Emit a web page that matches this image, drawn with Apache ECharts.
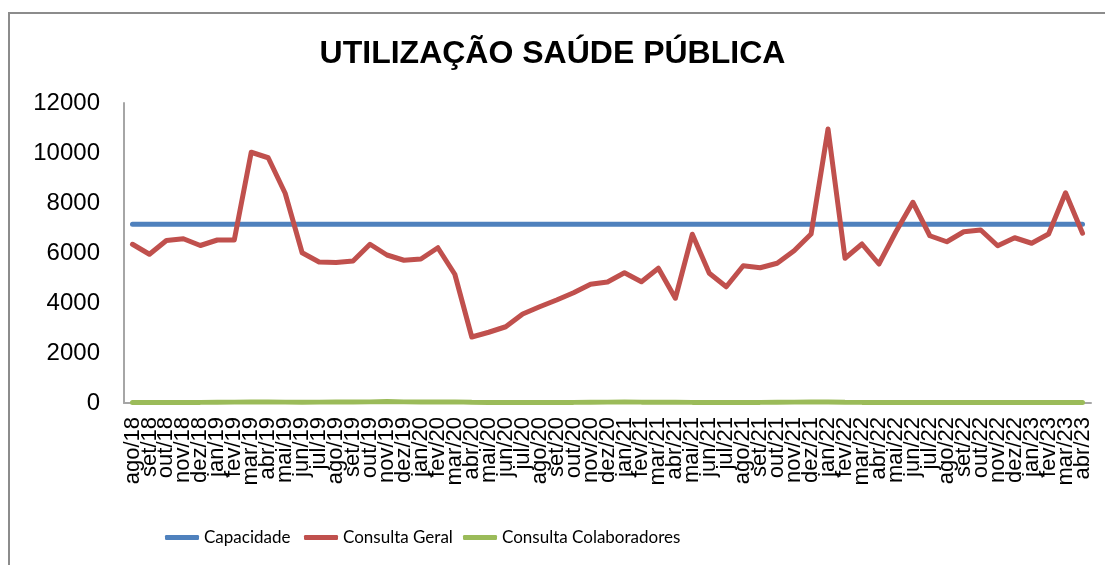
<!DOCTYPE html>
<html>
<head>
<meta charset="utf-8">
<script src="https://cdn.jsdelivr.net/npm/echarts@6/dist/echarts.min.js"></script>
<style>
  html, body { margin: 0; padding: 0; background: #fff; }
  #chart { width: 1105px; height: 565px; }
</style>
</head>
<body>
<div id="chart"></div>
<script>
// month labels, ago/18 .. abr/23
const months = [
  'ago/18','set/18','out/18','nov/18','dez/18',
  'jan/19','fev/19','mar/19','abr/19','mai/19','jun/19','jul/19','ago/19','set/19','out/19','nov/19','dez/19',
  'jan/20','fev/20','mar/20','abr/20','mai/20','jun/20','jul/20','ago/20','set/20','out/20','nov/20','dez/20',
  'jan/21','fev/21','mar/21','abr/21','mai/21','jun/21','jul/21','ago/21','set/21','out/21','nov/21','dez/21',
  'jan/22','fev/22','mar/22','abr/22','mai/22','jun/22','jul/22','ago/22','set/22','out/22','nov/22','dez/22',
  'jan/23','fev/23','mar/23','abr/23'
];

const capacidade = months.map(() => 7150);

const consultaGeral = [
  6350, 5950, 6500, 6570, 6300,
  6520, 6520, 10030, 9810, 8390, 6010, 5640, 5620, 5680, 6350, 5920, 5710,
  5760, 6210, 5150, 2640, 2830, 3050, 3560, 3850, 4120, 4410, 4750, 4840,
  5210, 4850, 5390, 4190, 6750, 5190, 4650, 5490, 5410, 5590, 6090, 6760,
  10960, 5790, 6360, 5560, 6850, 8030, 6690, 6450, 6850, 6920, 6290, 6610,
  6390, 6760, 8410, 6790
];

const consultaColab = [
  20, 20, 25, 25, 25,
  30, 35, 40, 40, 35, 30, 35, 40, 40, 45, 60, 45,
  40, 40, 45, 30, 20, 20, 20, 20, 25, 25, 30, 35,
  40, 35, 35, 30, 25, 25, 25, 25, 25, 30, 35, 45,
  40, 30, 25, 25, 25, 25, 25, 25, 25, 25, 25, 25,
  25, 25, 25, 25
];

const yTicks = { min: 0, max: 12000, interval: 2000 };

const chart = echarts.init(document.getElementById('chart'), null, { renderer: 'canvas' });

// one legend per item so each sits where the reference has it
const legendText = { fontFamily: 'Lato', fontSize: 17, color: '#000' };
function legendAt(name, left) {
  return {
    data: [name], left: left, top: 524,
    icon: 'roundRect', itemWidth: 34, itemHeight: 5,
    textStyle: legendText, selectedMode: false
  };
}

chart.setOption({
  backgroundColor: '#fff',
  animation: false,
  title: {
    text: 'UTILIZAÇÃO SAÚDE PÚBLICA',
    left: 'center', top: 33,
    textStyle: { fontFamily: 'Liberation Sans', fontWeight: 'bold', fontSize: 32, color: '#000' }
  },
  legend: [
    legendAt('Capacidade', 160),
    legendAt('Consulta Geral', 299),
    legendAt('Consulta Colaboradores', 458)
  ],
  grid: { left: 124, right: 14, top: 103, bottom: 162 },
  xAxis: {
    type: 'category',
    data: months,
    boundaryGap: true,
    axisLine: { lineStyle: { color: '#a6a6a6', width: 2 } },
    axisTick: { show: false },
    axisLabel: {
      interval: 0, rotate: 90, margin: 14,
      fontFamily: 'Liberation Sans', fontSize: 22, color: '#000'
    }
  },
  yAxis: {
    type: 'value',
    min: yTicks.min, max: yTicks.max, interval: yTicks.interval,
    splitLine: { show: false },
    axisLine: { show: true, lineStyle: { color: '#a6a6a6', width: 2 } },
    axisTick: { show: false },
    axisLabel: {
      margin: 24, fontFamily: 'Liberation Sans', fontSize: 24, color: '#000',
      formatter: (v) => String(v)
    }
  },
  series: [
    {
      name: 'Capacidade', type: 'line', data: capacidade,
      showSymbol: false, color: '#4f81bd',
      lineStyle: { width: 5, cap: 'round' }, z: 2
    },
    {
      name: 'Consulta Geral', type: 'line', data: consultaGeral,
      showSymbol: false, color: '#c0504d',
      lineStyle: { width: 5, cap: 'round', join: 'round' }, z: 3
    },
    {
      name: 'Consulta Colaboradores', type: 'line', data: consultaColab,
      showSymbol: false, color: '#9bbb59',
      lineStyle: { width: 5, cap: 'round' }, z: 4
    }
  ],
  graphic: [{
    type: 'rect', silent: true, z: -1,
    shape: { x: 9, y: 13, width: 1110, height: 570 },
    style: { fill: null, stroke: '#8c8c8c', lineWidth: 2 }
  }]
});

window.addEventListener('resize', () => chart.resize());
</script>
</body>
</html>
